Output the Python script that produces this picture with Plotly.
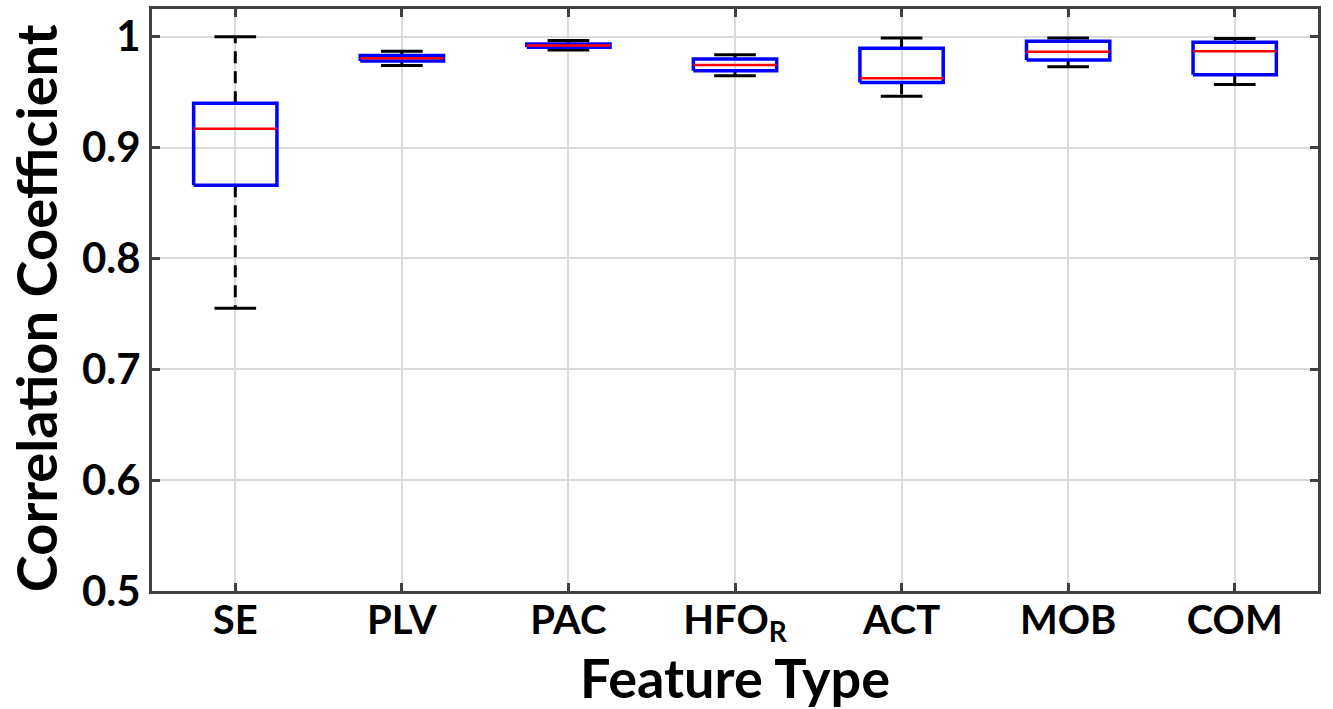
import plotly.graph_objects as go

categories = ["SE", "PLV", "PAC", "HFO<sub>R</sub>", "ACT", "MOB", "COM"]
upper_whisker = [1.000, 0.9868, 0.9965, 0.9838, 0.9988, 0.9988, 0.9985]
q3_values     = [0.940, 0.9830, 0.9935, 0.9800, 0.9895, 0.9958, 0.9950]
medians       = [0.917, 0.9805, 0.9920, 0.9745, 0.9625, 0.9865, 0.9868]
q1_values     = [0.866, 0.9780, 0.9905, 0.9694, 0.9588, 0.9790, 0.9658]
lower_whisker = [0.755, 0.9740, 0.9880, 0.9649, 0.9462, 0.9730, 0.9570]
y_ticks = [0.5, 0.6, 0.7, 0.8, 0.9, 1.0]
y_tick_labels = ["0.5", "0.6", "0.7", "0.8", "0.9", "1"]
x_title = "Feature Type"
y_title = "Correlation Coefficient"

BOX_HALF = 0.25
CAP_HALF = 0.125
FONT = "Lato"

fig = go.Figure()
positions = list(range(len(categories)))

for i in positions:
    # dashed whiskers
    fig.add_trace(go.Scatter(
        x=[i, i, None, i, i],
        y=[q3_values[i], upper_whisker[i], None, q1_values[i], lower_whisker[i]],
        mode="lines", line=dict(color="black", width=3, dash="12px,8px"),
        hoverinfo="skip", showlegend=False))
    # caps
    fig.add_trace(go.Scatter(
        x=[i - CAP_HALF, i + CAP_HALF, None, i - CAP_HALF, i + CAP_HALF],
        y=[upper_whisker[i], upper_whisker[i], None, lower_whisker[i], lower_whisker[i]],
        mode="lines", line=dict(color="black", width=3),
        hoverinfo="skip", showlegend=False))

for i in positions:
    fig.add_trace(go.Scatter(
        x=[i - BOX_HALF, i + BOX_HALF, i + BOX_HALF, i - BOX_HALF, i - BOX_HALF],
        y=[q1_values[i], q1_values[i], q3_values[i], q3_values[i], q1_values[i]],
        mode="lines", line=dict(color="#0000ff", width=3.5),
        hoverinfo="skip", showlegend=False))
    fig.add_trace(go.Scatter(
        x=[i - BOX_HALF, i + BOX_HALF],
        y=[medians[i], medians[i]],
        mode="lines", line=dict(color="#ff0000", width=2.5),
        hoverinfo="skip", showlegend=False))

axis_common = dict(
    showline=True, linecolor="#404040", linewidth=3, mirror="ticks",
    ticks="inside", ticklen=8, tickwidth=2.5, tickcolor="#404040",
    showgrid=True, gridcolor="#dadada", gridwidth=1.5, zeroline=False,
    automargin=False,
)

fig.update_xaxes(
    range=[-0.5, 6.5], tickmode="array", tickvals=positions, ticktext=categories,
    tickfont=dict(family=FONT, size=40, color="black", weight="bold"),
    ticklabelstandoff=-8,
    **axis_common)
fig.update_yaxes(
    range=[0.5, 1.025], tickmode="array", tickvals=y_ticks, ticktext=y_tick_labels,
    tickfont=dict(family=FONT, size=42, color="black", weight="bold"),
    **axis_common)

PLOT_H = 709 - 9 - 118
PLOT_W = 1333 - 152 - 15
fig.add_annotation(
    text="<b>" + x_title + "</b>", xref="paper", yref="paper",
    x=0.5, y=-121 / PLOT_H, xanchor="center", yanchor="bottom",
    showarrow=False, font=dict(family=FONT, size=54, color="black"))
fig.add_annotation(
    text="<b>" + y_title + "</b>", xref="paper", yref="paper",
    x=-152 / PLOT_W, y=0.485, xanchor="left", yanchor="middle", textangle=-90,
    showarrow=False, font=dict(family=FONT, size=56, color="black"))

fig.update_layout(
    width=1333, height=709,
    margin=dict(l=152, r=15, t=9, b=118),
    plot_bgcolor="white", paper_bgcolor="white",
    showlegend=False,
)

fig.write_html("out.html")
